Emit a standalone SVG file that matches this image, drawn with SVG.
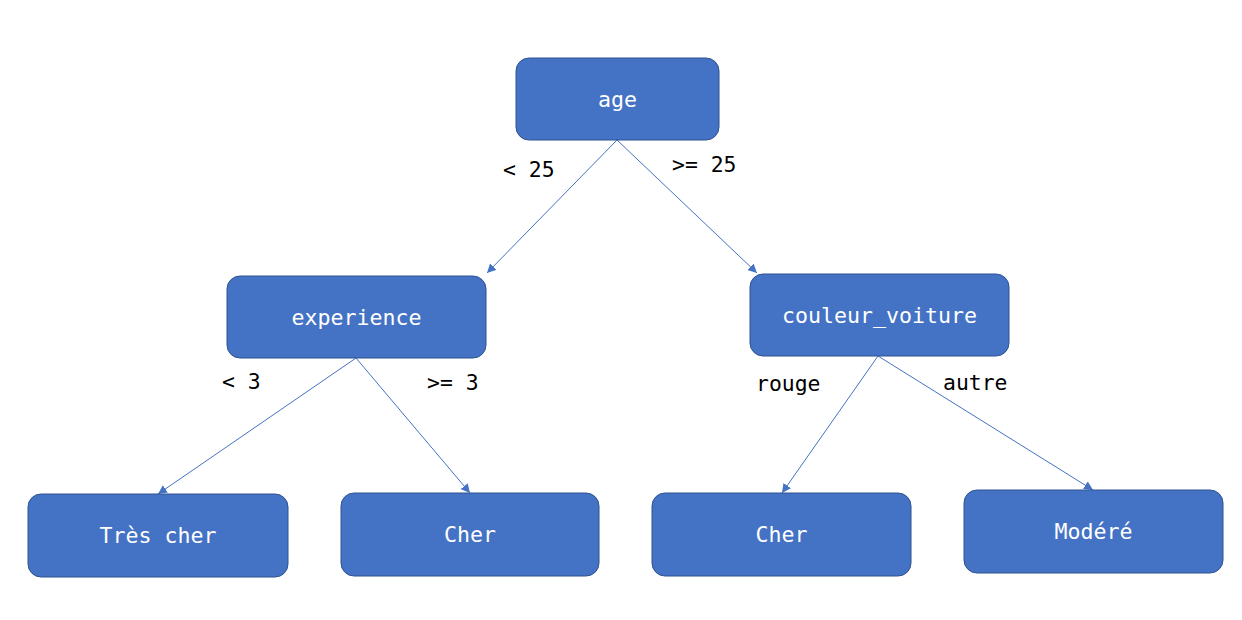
<svg xmlns="http://www.w3.org/2000/svg" width="1242" height="620" viewBox="0 0 1242 620">
<style>
.node rect{fill:#4472C4;stroke:#2F528F;stroke-width:1}
.node text{fill:#FFFFFF;font-family:"DejaVu Sans Mono","Liberation Mono",monospace;font-size:21.6px;text-anchor:middle;dominant-baseline:central}
.edge{stroke:#4472C4;stroke-width:1;fill:none;marker-end:url(#arr)}
.lbl{fill:#000000;font-family:"DejaVu Sans Mono","Liberation Mono",monospace;font-size:21.4px}
</style>
<defs>
<marker id="arr" viewBox="0 0 10 10" refX="10" refY="5" markerWidth="9" markerHeight="9" markerUnits="userSpaceOnUse" orient="auto">
<path d="M0,0 L10,5 L0,10 z" fill="#4472C4"/>
</marker>
</defs>
<rect width="1242" height="620" fill="#FFFFFF"/>
<g id="connectors">
<line class="edge" x1="617" y1="140" x2="487" y2="273"/>
<line class="edge" x1="617" y1="140" x2="757" y2="273"/>
<line class="edge" x1="356" y1="358" x2="158" y2="494"/>
<line class="edge" x1="356" y1="358" x2="470" y2="493"/>
<line class="edge" x1="878" y1="356" x2="782" y2="493"/>
<line class="edge" x1="878" y1="356" x2="1093" y2="490"/>
<text class="lbl" x="503" y="177">&lt; 25</text>
<text class="lbl" x="672" y="172">&gt;= 25</text>
<text class="lbl" x="222" y="389">&lt; 3</text>
<text class="lbl" x="427" y="390">&gt;= 3</text>
<text class="lbl" x="756" y="391">rouge</text>
<text class="lbl" x="943" y="390">autre</text>
</g>
<g id="node-age" class="node"><rect x="516" y="58" width="203" height="82" rx="13"/><text x="617.5" y="99">age</text></g>
<g id="node-experience" class="node"><rect x="227" y="276" width="259" height="82" rx="13"/><text x="356.5" y="317">experience</text></g>
<g id="node-couleur" class="node"><rect x="750" y="274" width="259" height="82" rx="13"/><text x="879.5" y="315">couleur_voiture</text></g>
<g id="node-tres-cher" class="node"><rect x="28" y="494" width="260" height="83" rx="13"/><text x="158" y="535.5">Très cher</text></g>
<g id="node-cher1" class="node"><rect x="341" y="493" width="258" height="83" rx="13"/><text x="470" y="534.5">Cher</text></g>
<g id="node-cher2" class="node"><rect x="652" y="493" width="259" height="83" rx="13"/><text x="781.5" y="534.5">Cher</text></g>
<g id="node-modere" class="node"><rect x="964" y="490" width="259" height="83" rx="13"/><text x="1093.5" y="531.5">Modéré</text></g>
</svg>
